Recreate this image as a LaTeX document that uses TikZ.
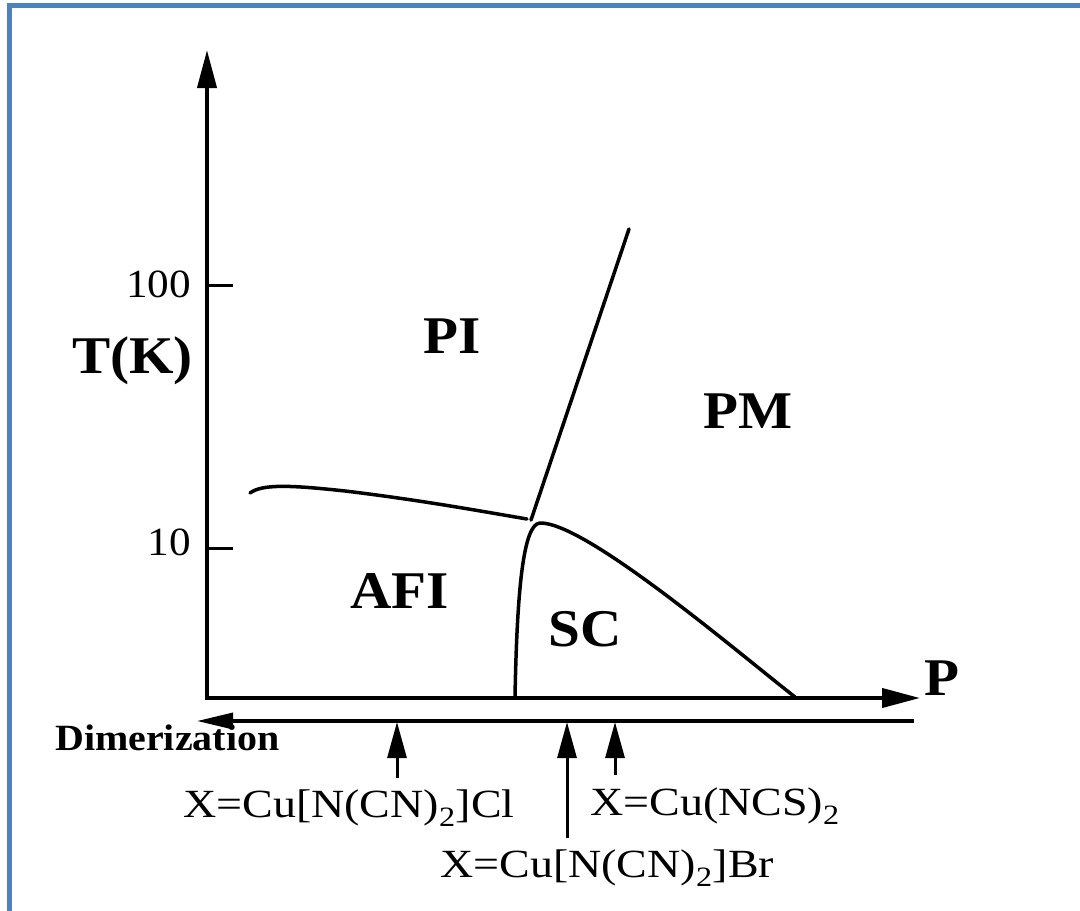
\documentclass[tikz,border=0pt]{standalone}
\usepackage{fontspec}
\setmainfont{Liberation Serif}[FakeStretch=1.08]
\newfontfamily\cmpdfont{Liberation Serif}[FakeStretch=1.15]
\usetikzlibrary{arrows.meta}
\definecolor{frameblue}{RGB}{79,129,189}
\begin{document}
\begin{tikzpicture}[x=1pt,y=-1pt,
  axisline/.style={line width=4pt, line join=miter, {Triangle[length=38pt,width=19pt]}-{Triangle[length=38pt,width=19pt]}},
  tickline/.style={line width=3pt},
  boundary/.style={line width=3.5pt, line cap=round, line join=round},
  dimline/.style={line width=3.5pt, -{Triangle[length=36pt,width=16pt]}},
  marker/.style={line width=3pt, -{Triangle[length=36pt,width=19pt]}},
  region/.style={font=\fontsize{53}{60}\selectfont\bfseries, inner sep=0pt, anchor=base west},
  ticklabel/.style={font=\fontsize{40}{46}\selectfont, inner sep=0pt, anchor=base east},
  compound/.style={font=\cmpdfont\fontsize{40}{46}\selectfont, inner sep=0pt, anchor=base west},
  dimlabel/.style={font=\fontsize{37}{42}\selectfont\bfseries, inner sep=0pt, anchor=base west}
]
\useasboundingbox (0,0) rectangle (1080,911);
\fill[white] (0,0) rectangle (1080,911);
% frame
\draw[frameblue, line width=5pt] (9.5,920) -- (9.5,5.5) -- (1090,5.5);

% axes
\coordinate (ytop) at (207,50);
\coordinate (origin) at (207,698);
\coordinate (xend) at (920,698);
\draw[axisline] (ytop) -- (origin) -- (xend);

% ticks
\coordinate (t100a) at (207,285);
\coordinate (t100b) at (233,285);
\coordinate (t10a) at (207,548);
\coordinate (t10b) at (233,548);
\draw[tickline] (t100a) -- (t100b);
\draw[tickline] (t10a) -- (t10b);
\node[ticklabel] (l100) at (191,297) {100};
\node[ticklabel] (l10) at (191,555) {10};

% axis labels
\node[region] (tk) at (72,373) {T(K)};
\node[region] (p) at (924,695) {P};

% phase boundaries
\coordinate (junction) at (531,520);
\coordinate (pitop) at (629,229);
\coordinate (afistart) at (250,493);
\coordinate (afiend) at (527,519);
\coordinate (scleft) at (515,697);
\coordinate (sctop) at (540,523);
\coordinate (scright) at (795,697);
\draw[boundary] (junction) -- (pitop);
\draw[boundary] (afistart) .. controls (262,484) and (290,485) .. (345,491)
  .. controls (420,500) and (480,511) .. (afiend);
\draw[boundary] (scleft) .. controls (517,592) and (523,524) .. (sctop)
  .. controls (585,522) and (735,650) .. (scright);

% region labels
\node[region] (pi) at (423,353) {PI};
\node[region] (pm) at (703,428) {PM};
\node[region] (afi) at (350,608) {AFI};
\node[region] (sc) at (548,646) {SC};

% dimerization
\coordinate (dright) at (914,721);
\coordinate (dleft) at (197,721);
\draw[dimline] (dright) -- (dleft);
\node[dimlabel] (dim) at (55,750) {Dimerization};

% compound markers
\coordinate (clbot) at (397,778);
\coordinate (cltop) at (397,722);
\coordinate (brbot) at (567,838);
\coordinate (brtop) at (567,722);
\coordinate (ncsbot) at (615,775);
\coordinate (ncstop) at (615,722);
\draw[marker] (clbot) -- (cltop);
\draw[marker] (brbot) -- (brtop);
\draw[marker] (ncsbot) -- (ncstop);
\node[compound] (cl) at (183,817) {X=Cu[N(CN)\textsubscript{2}]Cl};
\node[compound] (ncs) at (590,815) {X=Cu(NCS)\textsubscript{2}};
\node[compound] (br) at (440,877) {X=Cu[N(CN)\textsubscript{2}]Br};
\end{tikzpicture}
\end{document}
